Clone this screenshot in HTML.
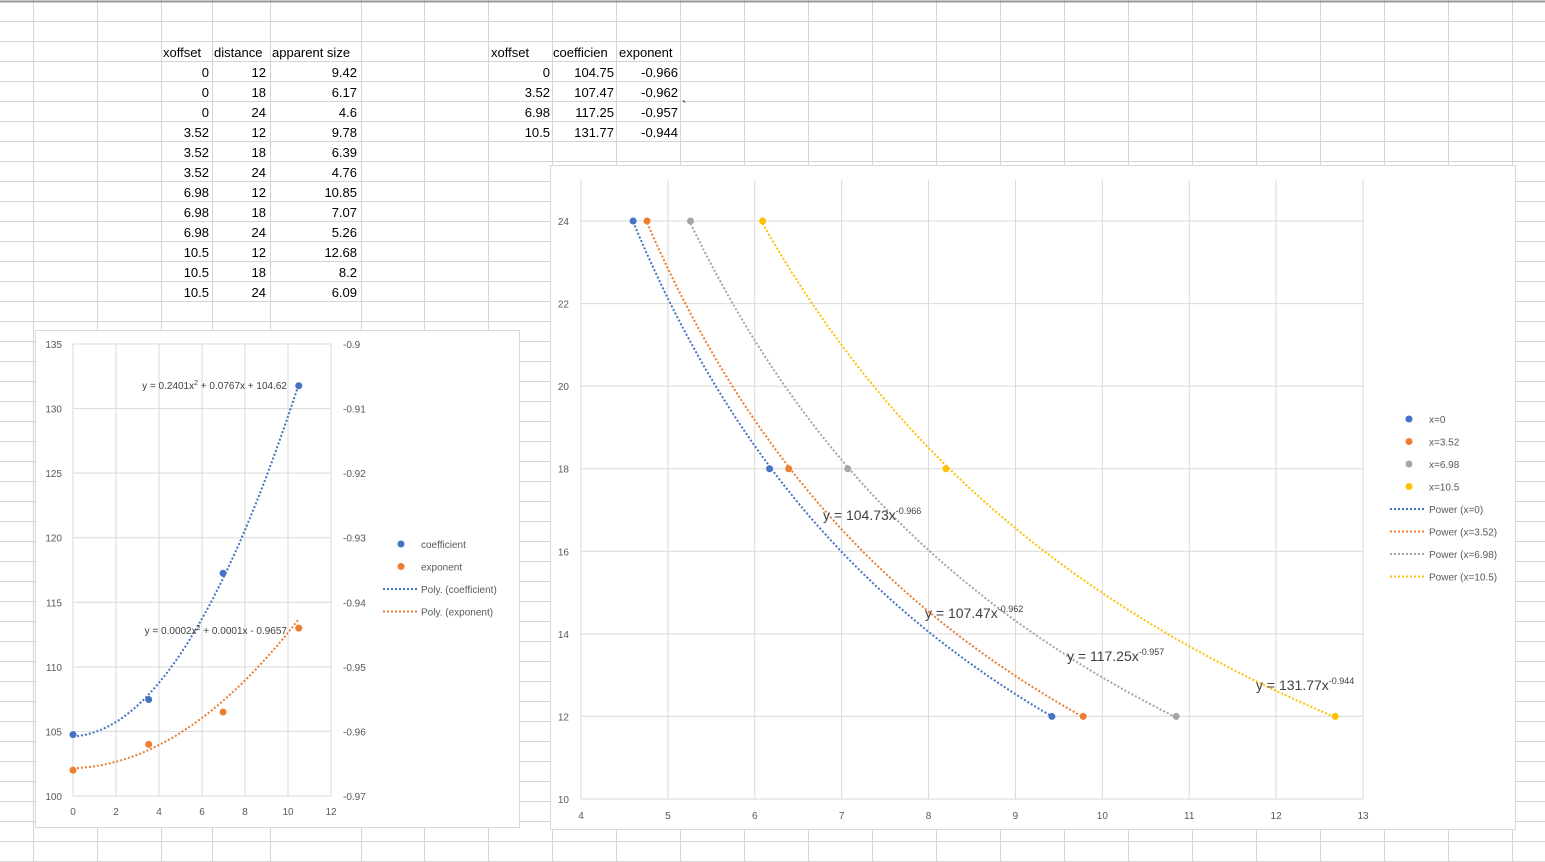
<!DOCTYPE html>
<html><head><meta charset="utf-8">
<style>
html,body{margin:0;padding:0;background:#fff;}
svg{display:block;font-family:"Liberation Sans",sans-serif;}
</style></head>
<body>
<svg id="s" width="1545" height="862" xmlns="http://www.w3.org/2000/svg"></svg>
<script>
// ---- data ----
const tblXoffset=["0","0","0","3.52","3.52","3.52","6.98","6.98","6.98","10.5","10.5","10.5"];
const tblDistance=[12,18,24,12,18,24,12,18,24,12,18,24];
const tblSize=[9.42,6.17,4.6,9.78,6.39,4.76,10.85,7.07,5.26,12.68,8.2,6.09];
const fitX=[0,3.52,6.98,10.5];
const fitCoef=[104.75,107.47,117.25,131.77];
const fitExp=[-0.966,-0.962,-0.957,-0.944];
const polyCoef=[0.2401,0.0767,104.62];
const polyExp=[0.0002,0.0001,-0.9657];
const leftXTicks=[0,2,4,6,8,10,12];
const leftYTicks=[100,105,110,115,120,125,130,135];
const leftY2Ticks=[-0.97,-0.96,-0.95,-0.94,-0.93,-0.92,-0.91,-0.9];
const seriesNames=["x=0","x=3.52","x=6.98","x=10.5"];
const powA=[104.73,107.47,117.25,131.77];
const powB=[-0.966,-0.962,-0.957,-0.944];
const rightXTicks=[4,5,6,7,8,9,10,11,12,13];
const rightYTicks=[10,12,14,16,18,20,22,24];

const S=document.getElementById('s');
const NS="http://www.w3.org/2000/svg";
function mk(tag,attrs,parent){const e=document.createElementNS(NS,tag);for(const k in attrs)e.setAttribute(k,attrs[k]);(parent||S).appendChild(e);return e;}
function txt(x,y,s,attrs,parent){const e=mk('text',Object.assign({x:x,y:y},attrs),parent);e.textContent=s;return e;}
const colors=["#4472C4","#ED7D31","#A5A5A5","#FFC000"];

// ---- grid ----
const grid=mk('g',{});


const cols=[33,97,161,212,270,361,424,488,552,616,680,744,808,872,936,1000,1064,1128,1192,1256,1320,1384,1448,1512];
cols.forEach(c=>mk('line',{x1:c+.5,y1:0,x2:c+.5,y2:862,stroke:"#d4d4d4"},grid));
for(let y=21.5;y<862;y+=20)mk('line',{x1:0,y1:y,x2:1545,y2:y,stroke:"#d4d4d4"},grid);
mk('line',{x1:0,y1:1.5,x2:1545,y2:1.5,stroke:"#9a9a9a","stroke-width":2},grid);

// ---- tables ----
const T={fill:"#000","font-size":"13"};
const hdr=[["xoffset",163],["distance",214],["apparent size",272]];
hdr.forEach(h=>{const t=txt(h[1],57,h[0],T);});
for(let i=0;i<12;i++){
  const y=77+i*20;
  const r=[[tblXoffset[i],209],[String(tblDistance[i]),266],[String(tblSize[i]),357]];
  r.forEach(c=>{const t=txt(c[1],y,c[0],Object.assign({"text-anchor":"end"},T));});
}
[["xoffset",491],["coefficien",553],["exponent",619]].forEach(h=>{const t=txt(h[1],57,h[0],T);});
for(let i=0;i<4;i++){
  const y=77+i*20;
  [[String(fitX[i]),550],[fitCoef[i].toFixed(2),614],[fitExp[i].toFixed(3),678]].forEach(c=>{const t=txt(c[1],y,c[0],Object.assign({"text-anchor":"end"},T));});
}
txt(682,110,"`",T);

// ---- left chart ----
const L=mk('g',{});


mk('rect',{x:35.5,y:330.5,width:484,height:497,fill:"#fff",stroke:"#d9d9d9"},L);
const lx0=73,lx1=331,ly0=796,ly1=344;
const lX=v=>lx0+(v-0)/12*(lx1-lx0);
const lY=v=>ly0-(v-100)/35*(ly0-ly1);
const lY2=v=>ly0-(v+0.97)/0.07*(ly0-ly1);
leftXTicks.forEach(t=>{mk('line',{x1:lX(t),y1:ly1,x2:lX(t),y2:ly0,stroke:"#d9d9d9"},L);const e=txt(lX(t),815,String(t),{"text-anchor":"middle","font-size":"10",fill:"#595959"},L);});
leftYTicks.forEach(t=>{mk('line',{x1:lx0,y1:lY(t),x2:lx1,y2:lY(t),stroke:"#d9d9d9"},L);const e=txt(62,lY(t)+4,String(t),{"text-anchor":"end","font-size":"10",fill:"#595959"},L);});
leftY2Ticks.forEach(t=>{const e=txt(343,lY2(t)+4,String(t),{"font-size":"10",fill:"#595959"},L);});
function polyPath(c,f){let d="";for(let i=0;i<=60;i++){const x=10.5*i/60;const v=c[0]*x*x+c[1]*x+c[2];d+=(i?"L":"M")+lX(x).toFixed(1)+","+f(v).toFixed(1);}return d;}
let p=mk('path',{d:polyPath(polyCoef,lY),fill:"none",stroke:colors[0],"stroke-width":2,"stroke-dasharray":"2 2"},L);


p=mk('path',{d:polyPath(polyExp,lY2),fill:"none",stroke:colors[1],"stroke-width":2,"stroke-dasharray":"2 2"},L);


fitX.forEach((x,i)=>{
  let c=mk('circle',{cx:lX(x),cy:lY(fitCoef[i]),r:3.5,fill:colors[0]},L);
  
  
  c=mk('circle',{cx:lX(x),cy:lY2(fitExp[i]),r:3.5,fill:colors[1]},L);
  
  
});
let eq=txt(287,389,"",{"text-anchor":"end","font-size":"10",fill:"#404040"},L);
eq.innerHTML='y = 0.2401x<tspan dy="-4" font-size="7">2</tspan><tspan dy="4"> + 0.0767x + 104.62</tspan>';


eq=txt(287,634,"",{"text-anchor":"end","font-size":"10",fill:"#404040"},L);
eq.innerHTML='y = 0.0002x<tspan dy="-4" font-size="7">2</tspan><tspan dy="4"> + 0.0001x - 0.9657</tspan>';


const lleg=[["coefficient",0,true],["exponent",1,true],["Poly. (coefficient)",0,false],["Poly. (exponent)",1,false]];
lleg.forEach((l,i)=>{
  const y=544+i*22.5;
  const g=mk('g',{},L);
  
  
  if(l[2])mk('circle',{cx:401,cy:y,r:3.5,fill:colors[l[1]]},g);
  else mk('line',{x1:383,y1:y,x2:417,y2:y,stroke:colors[l[1]],"stroke-width":2,"stroke-dasharray":"2 2"},g);
  txt(421,y+4,l[0],{"font-size":"10",fill:"#595959"},g);
});

// ---- right chart ----
const R=mk('g',{});


mk('rect',{x:550.5,y:165.5,width:965,height:664,fill:"#fff",stroke:"#d9d9d9"},R);
const rx0=581,rx1=1363,ry0=799,ryTop=180;
const rX=v=>rx0+(v-4)/9*(rx1-rx0);
const rY=v=>ry0-(v-10)/14*(ry0-221);
rightXTicks.forEach(t=>{mk('line',{x1:rX(t),y1:ryTop,x2:rX(t),y2:ry0,stroke:"#d9d9d9"},R);const e=txt(rX(t),819,String(t),{"text-anchor":"middle","font-size":"10",fill:"#595959"},R);});
rightYTicks.forEach(t=>{mk('line',{x1:rx0,y1:rY(t),x2:rx1,y2:rY(t),stroke:"#d9d9d9"},R);const e=txt(569,rY(t)+4,String(t),{"text-anchor":"end","font-size":"10",fill:"#595959"},R);});
for(let s=0;s<4;s++){
  const xs=tblSize.slice(s*3,s*3+3), ys=tblDistance.slice(s*3,s*3+3);
  const mn=Math.min(...xs),mx=Math.max(...xs);
  let d="";for(let i=0;i<=60;i++){const x=mn+(mx-mn)*i/60;const y=powA[s]*Math.pow(x,powB[s]);d+=(i?"L":"M")+rX(x).toFixed(1)+","+rY(y).toFixed(1);}
  const tp=mk('path',{d:d,fill:"none",stroke:colors[s],"stroke-width":2,"stroke-dasharray":"2 2"},R);
  
  
  xs.forEach((x,i)=>{const c=mk('circle',{cx:rX(x),cy:rY(ys[i]),r:3.5,fill:colors[s]},R);});
}
const eqPos=[[823,520],[925,618],[1067,661],[1256,690]];
for(let s=0;s<4;s++){
  const e=txt(eqPos[s][0],eqPos[s][1],"",{"font-size":"14",fill:"#404040"},R);
  e.innerHTML='y = '+powA[s].toFixed(2)+'x<tspan dy="-6" font-size="9">'+powB[s]+'</tspan>';
  
  
}
const rleg=[];
for(let s=0;s<4;s++)rleg.push([seriesNames[s],s,true]);
for(let s=0;s<4;s++)rleg.push(["Power ("+seriesNames[s]+")",s,false]);
rleg.forEach((l,i)=>{
  const y=419+i*22.5;
  const g=mk('g',{},R);
  
  
  if(l[2]){mk('circle',{cx:1409,cy:y,r:3.5,fill:colors[l[1]]},g);txt(1429,y+4,l[0],{"font-size":"10",fill:"#595959"},g);}
  else{mk('line',{x1:1390,y1:y,x2:1424,y2:y,stroke:colors[l[1]],"stroke-width":2,"stroke-dasharray":"2 2"},g);txt(1429,y+4,l[0],{"font-size":"10",fill:"#595959"},g);}
});
</script>
</body></html>
